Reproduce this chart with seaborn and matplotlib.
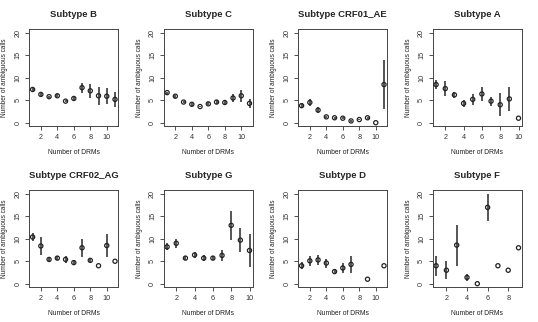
import numpy as np
import pandas as pd
import matplotlib
matplotlib.use("Agg")
import matplotlib.pyplot as plt
import seaborn as sns

subtypes = ["B", "C", "CRF01_AE", "A", "CRF02_AG", "G", "D", "F"]

b_x = [1, 2, 3, 4, 5, 6, 7, 8, 9, 10, 11]
b_y = [7.4, 6.3, 5.8, 6.0, 4.8, 5.4, 7.8, 7.1, 6.0, 5.9, 5.2]
b_lo = [7.1, 6.0, 5.6, 5.7, 4.5, 4.8, 6.7, 5.6, 4.0, 4.1, 3.5]
b_hi = [7.7, 6.6, 6.0, 6.3, 5.1, 6.0, 8.9, 8.6, 8.0, 7.7, 6.9]

c_x = [1, 2, 3, 4, 5, 6, 7, 8, 9, 10, 11]
c_y = [6.7, 5.9, 4.6, 4.1, 3.6, 4.2, 4.6, 4.5, 5.5, 6.0, 4.3]
c_lo = [6.5, 5.6, 4.4, 3.8, 3.4, 3.9, 4.2, 4.0, 4.6, 4.7, 3.3]
c_hi = [6.9, 6.2, 4.8, 4.4, 3.8, 4.5, 5.0, 5.0, 6.4, 7.3, 5.3]

ae_x = [1, 2, 3, 4, 5, 6, 7, 8, 9, 10, 11]
ae_y = [3.8, 4.5, 2.8, 1.3, 1.1, 1.0, 0.4, 0.7, 1.1, 0.0, 8.5]
ae_lo = [3.2, 3.7, 2.2, 1.1, 0.9, 0.8, 0.2, 0.5, 0.9, np.nan, 3.0]
ae_hi = [4.4, 5.3, 3.4, 1.5, 1.3, 1.2, 0.6, 0.9, 1.3, np.nan, 14.0]

a_x = [1, 2, 3, 4, 5, 6, 7, 8, 9, 10]
a_y = [8.5, 7.6, 6.2, 4.3, 5.2, 6.4, 4.8, 4.0, 5.3, 1.0]
a_lo = [7.6, 6.0, 5.5, 3.5, 4.0, 4.9, 3.8, 1.4, 2.6, np.nan]
a_hi = [9.4, 9.2, 6.9, 5.1, 6.4, 7.9, 5.8, 6.6, 8.0, np.nan]

ag_x = [1, 2, 3, 4, 5, 6, 7, 8, 9, 10, 11]
ag_y = [10.4, 8.4, 5.4, 5.7, 5.4, 4.7, 8.0, 5.2, 4.0, 8.5, 5.0]
ag_lo = [9.4, 6.4, 5.1, 5.2, 4.7, 4.1, 6.0, 4.8, np.nan, 5.9, np.nan]
ag_hi = [11.4, 10.4, 5.7, 6.2, 6.1, 5.3, 10.0, 5.6, np.nan, 11.1, np.nan]

g_x = [1, 2, 3, 4, 5, 6, 7, 8, 9, 10]
g_y = [8.2, 9.0, 5.7, 6.4, 5.7, 5.7, 6.3, 13.0, 9.7, 7.4]
g_lo = [7.4, 8.0, 5.2, 5.8, 5.1, 5.2, 5.1, 9.8, 7.0, 3.8]
g_hi = [9.0, 10.0, 6.2, 7.0, 6.3, 6.2, 7.5, 16.2, 12.4, 11.0]

d_x = [1, 2, 3, 4, 5, 6, 7, 9, 11]
d_y = [4.0, 5.1, 5.3, 4.6, 2.7, 3.5, 4.3, 1.0, 4.0]
d_lo = [3.2, 4.0, 4.1, 3.6, 2.1, 2.4, 2.4, np.nan, np.nan]
d_hi = [4.8, 6.2, 6.5, 5.6, 3.3, 4.6, 6.2, np.nan, np.nan]

f_x = [1, 2, 3, 4, 5, 6, 7, 8, 9]
f_y = [4.0, 3.0, 8.6, 1.4, 0.0, 17.0, 4.0, 3.0, 8.0]
f_lo = [1.7, 1.0, 4.0, 0.7, np.nan, 14.0, np.nan, np.nan, np.nan]
f_hi = [6.2, 5.0, 13.0, 2.2, np.nan, 20.0, np.nan, np.nan, np.nan]

panels = [
    (b_x, b_y, b_lo, b_hi), (c_x, c_y, c_lo, c_hi), (ae_x, ae_y, ae_lo, ae_hi),
    (a_x, a_y, a_lo, a_hi), (ag_x, ag_y, ag_lo, ag_hi), (g_x, g_y, g_lo, g_hi),
    (d_x, d_y, d_lo, d_hi), (f_x, f_y, f_lo, f_hi),
]
xmax_list = [11, 11, 11, 10, 11, 10, 11, 9]
y_ticks = [0, 5, 10, 15, 20]

sns.set_style("ticks")
plt.rcParams["font.family"] = ["Liberation Sans", "DejaVu Sans"]

W, H = 538, 322
fig = plt.figure(figsize=(W / 100, H / 100), dpi=100)
fig.patch.set_facecolor("white")

for i, (name, (xs, ys, lo, hi)) in enumerate(zip(subtypes, panels)):
    row, col = divmod(i, 4)
    left = col * 134.5 + 29.3
    top = 29.3 + row * 161
    w, h = 89, 97
    ax = fig.add_axes([left / W, 1 - (top + h) / H, w / W, h / H])
    df = pd.DataFrame({"x": xs, "y": ys, "lo": lo, "hi": hi})
    bars = df.dropna()
    ax.vlines(bars["x"], bars["lo"], bars["hi"], color="#555555", lw=1.4, zorder=2)
    sns.scatterplot(data=df, x="x", y="y", ax=ax, marker="o", s=9,
                    facecolor="none", edgecolor="#222222", linewidth=0.9, zorder=3)
    xmax = xmax_list[i]
    pad = (xmax - 1) * 0.04
    ax.set_xlim(1 - pad, xmax + pad)
    ax.set_ylim(-0.8, 20.8)
    ax.set_xticks([t for t in range(2, xmax + 1, 2)])
    ax.set_yticks(y_ticks)
    ax.tick_params(axis="both", labelsize=5.2, length=3, width=0.6, pad=2.5,
                   colors="#333333")
    for lab in ax.get_yticklabels():
        lab.set_rotation(90)
        lab.set_va("center")
    for sp in ax.spines.values():
        sp.set_visible(True)
        sp.set_linewidth(0.7)
        sp.set_color("#444444")
    ax.set_xlabel("Number of DRMs", fontsize=4.9, labelpad=5.8, color="#222222")
    ax.set_ylabel("Number of ambiguous calls", fontsize=4.7, labelpad=4.5, color="#222222")
    ax.set_title("Subtype " + name, fontsize=6.8, fontweight="bold", pad=9)

fig.savefig("out.png", dpi=100)
